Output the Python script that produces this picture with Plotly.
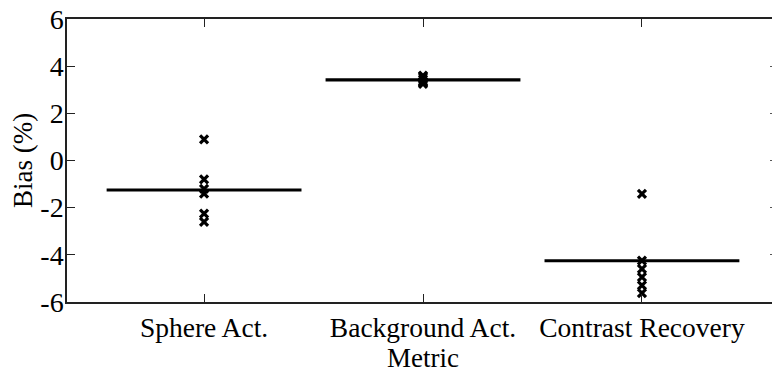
import plotly.graph_objects as go

categories = ["Sphere Act.", "Background Act.", "Contrast Recovery"]
sphere_vals = [0.9, -0.8, -1.2, -1.4, -2.25, -2.6]
background_vals = [3.6, 3.55, 3.45, 3.35, 3.3, 3.25]
contrast_vals = [-1.42, -4.25, -4.6, -4.95, -5.3, -5.62]
mean_vals = [-1.25, 3.42, -4.25]
y_tick_vals = [-6, -4, -2, 0, 2, 4, 6]
y_tick_text = ["-6", "-4", "-2", "0", "2", "4", "6"]

series = [sphere_vals, background_vals, contrast_vals]
FONT = "Liberation Serif"
HALF = 0.445

fig = go.Figure()

lx, ly = [], []
for i, m in enumerate(mean_vals):
    xc = i + 1
    lx += [xc - HALF, xc + HALF, None]
    ly += [m, m, None]
fig.add_trace(go.Scatter(x=lx, y=ly, mode="lines",
                         line=dict(color="black", width=3.2),
                         showlegend=False, hoverinfo="skip"))

for i, vals in enumerate(series):
    fig.add_trace(go.Scatter(
        x=[i + 1] * len(vals), y=vals, mode="markers",
        marker=dict(symbol="x-thin", size=8, color="black",
                    line=dict(color="black", width=3.2)),
        showlegend=False, name=categories[i]))

# right-side tick stubs (the right axis line lies just off the picture)
fig.add_trace(go.Scatter(x=[None], y=[None], yaxis="y2", showlegend=False))

fig.update_layout(
    width=772, height=373,
    margin=dict(l=67, r=0, t=19, b=71),
    paper_bgcolor="white", plot_bgcolor="white",
    font=dict(family=FONT, size=27, color="black"),
    xaxis=dict(
        range=[0.374, 3.594],
        tickmode="array", tickvals=[1, 2, 3], ticktext=categories,
        ticks="inside", ticklen=8, tickwidth=1.2, tickcolor="#222",
        showline=True, linecolor="#222", linewidth=1.5, mirror="ticks",
        showgrid=False, zeroline=False,
        tickfont=dict(family=FONT, size=27.5, color="black"),
    ),
    yaxis=dict(
        range=[-6, 6],
        tickmode="array", tickvals=y_tick_vals, ticktext=y_tick_text,
        ticks="inside", ticklen=8, tickwidth=1.2, tickcolor="#222",
        showline=True, linecolor="#222", linewidth=1.5,
        showgrid=False, zeroline=False,
        tickfont=dict(family=FONT, size=28, color="black"),
        ticklabelstandoff=-4,
        title=dict(text="Bias (%)", font=dict(family=FONT, size=27, color="black"),
                   standoff=0),
    ),
    yaxis2=dict(
        range=[-6, 6], overlaying="y", side="right", anchor="x",
        tickmode="array", tickvals=y_tick_vals, showticklabels=False,
        ticks="inside", ticklen=2, tickwidth=1.2, tickcolor="#555",
        showline=False, showgrid=False, zeroline=False,
    ),
    annotations=[dict(text="Metric", x=2, xref="x", y=-0.138, yref="paper",
                      xanchor="center", yanchor="top", showarrow=False,
                      font=dict(family=FONT, size=27, color="black"))],
)

fig.write_html("out.html")
